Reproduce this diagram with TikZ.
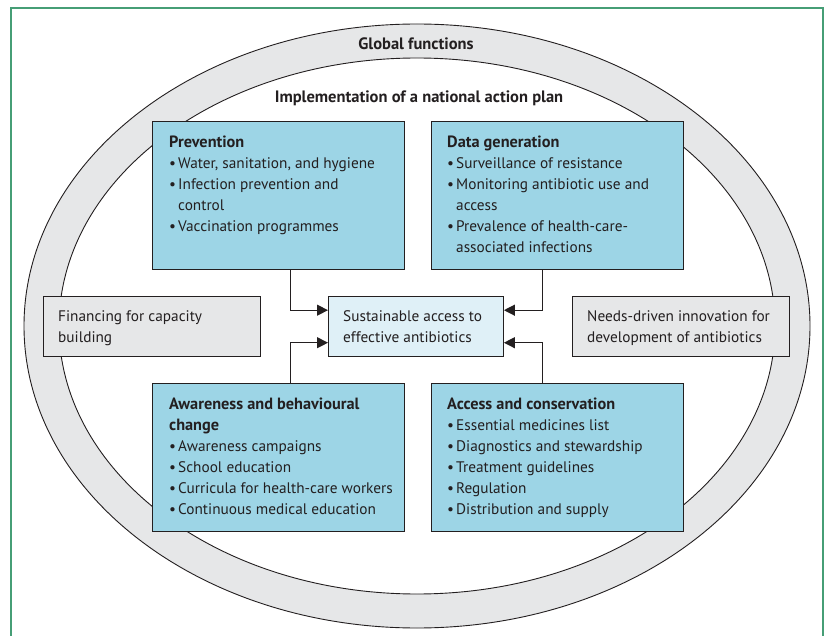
\documentclass[tikz,border=0pt]{standalone}
\usepackage{fontspec}
\setmainfont{PT Sans}
\usetikzlibrary{arrows.meta,calc}

\definecolor{inkc}{RGB}{35,31,32}
\definecolor{boxblue}{RGB}{157,213,230}
\definecolor{paleblue}{RGB}{223,240,247}
\definecolor{ringgray}{RGB}{230,231,232}
\definecolor{framegreen}{RGB}{70,158,118}

\newcommand\bul{\makebox[9pt][l]{\textbullet}}
\newcommand\ind{\hspace*{9pt}}
\newcommand\hd[1]{{\fontsize{16.3}{21}\selectfont\bfseries #1}}

\tikzset{
  every node/.style={text=inkc, font=\fontsize{15.3}{21}\selectfont},
  areabox/.style={draw=inkc, line width=0.9pt, fill=boxblue, inner sep=0pt},
  goalbox/.style={draw=inkc, line width=0.9pt, fill=paleblue, inner sep=0pt},
  sidebox/.style={draw=inkc, line width=0.9pt, fill=ringgray, inner sep=0pt},
  boxtext/.style={anchor=north west, inner sep=0pt, align=left},
  heading/.style={font=\fontsize{16.5}{21}\selectfont\bfseries},
  link/.style={draw=inkc, line width=1.2pt, -{Triangle[length=11pt,width=11pt]}},
}

\begin{document}
\begin{tikzpicture}[x=1pt,y=-1pt]
  \useasboundingbox (0,0) rectangle (827,636);

  % outer frame
  \draw[framegreen, line width=1.6pt] (11,640) -- (11,8) -- (823,8) -- (823,640);

  % ring of global functions
  \fill[ringgray, even odd rule]
    (417,326) ellipse [x radius=393pt, y radius=302pt]
    (417,326) ellipse [x radius=358pt, y radius=268pt];
  \draw[inkc, line width=0.9pt] (417,326) ellipse [x radius=393pt, y radius=302pt];
  \draw[inkc, line width=0.9pt] (417,326) ellipse [x radius=358pt, y radius=268pt];

  \node[heading, anchor=base] (global) at (416,50) {Global functions};
  \node[heading, anchor=base] (nap) at (419,103) {Implementation of a national action plan};

  % four action areas
  \node[areabox, minimum width=252pt, minimum height=148pt, anchor=north west] (prev) at (152,121) {};
  \node[areabox, minimum width=252pt, minimum height=148pt, anchor=north west] (data) at (431,121) {};
  \node[areabox, minimum width=252pt, minimum height=148pt, anchor=north west] (aware) at (152,383) {};
  \node[areabox, minimum width=252pt, minimum height=148pt, anchor=north west] (acc) at (431,383) {};

  % goal and side boxes
  \node[goalbox, minimum width=175pt, minimum height=60pt, anchor=north west] (goal) at (328,296) {};
  \node[sidebox, minimum width=217pt, minimum height=60pt, anchor=north west] (fin) at (43,296) {};
  \node[sidebox, minimum width=217pt, minimum height=60pt, anchor=north west] (innov) at (572,296) {};

  % box contents (first baseline 14.7pt below the node top)
  \node[boxtext] (prevtxt) at (169,132.3) {\strut\hd{Prevention}\\
    \bul Water, sanitation, and hygiene\\
    \bul Infection prevention and\\
    \ind control\\
    \bul Vaccination programmes};
  \node[boxtext] (datatxt) at (447,132.3) {\strut\hd{Data generation}\\
    \bul Surveillance of resistance\\
    \bul Monitoring antibiotic use and\\
    \ind access\\
    \bul Prevalence of health-care-\\
    \ind associated infections};
  \node[boxtext] (awaretxt) at (169,394.3) {\strut\hd{Awareness and behavioural}\\
    \hd{change}\\
    \bul Awareness campaigns\\
    \bul School education\\
    \bul Curricula for health-care workers\\
    \bul Continuous medical education};
  \node[boxtext] (acctxt) at (447,394.3) {\strut\hd{Access and conservation}\\
    \bul Essential medicines list\\
    \bul Diagnostics and stewardship\\
    \bul Treatment guidelines\\
    \bul Regulation\\
    \bul Distribution and supply};
  \node[boxtext] (goaltxt) at (343,306.3) {\strut Sustainable access to\\effective antibiotics};
  \node[boxtext] (fintxt) at (58,306.3) {\strut Financing for capacity\\building};
  \node[boxtext] (innovtxt) at (587,306.3) {\strut Needs-driven innovation for\\development of antibiotics};

  % links into the goal
  \draw[link] ($(prev.south west)!0.548!(prev.south east)$) |- ($(goal.north west)!0.233!(goal.south west)$);
  \draw[link] ($(aware.north west)!0.548!(aware.north east)$) |- ($(goal.north west)!0.767!(goal.south west)$);
  \draw[link] ($(data.south west)!0.44!(data.south east)$) |- ($(goal.north east)!0.233!(goal.south east)$);
  \draw[link] ($(acc.north west)!0.44!(acc.north east)$) |- ($(goal.north east)!0.767!(goal.south east)$);
\end{tikzpicture}
\end{document}
